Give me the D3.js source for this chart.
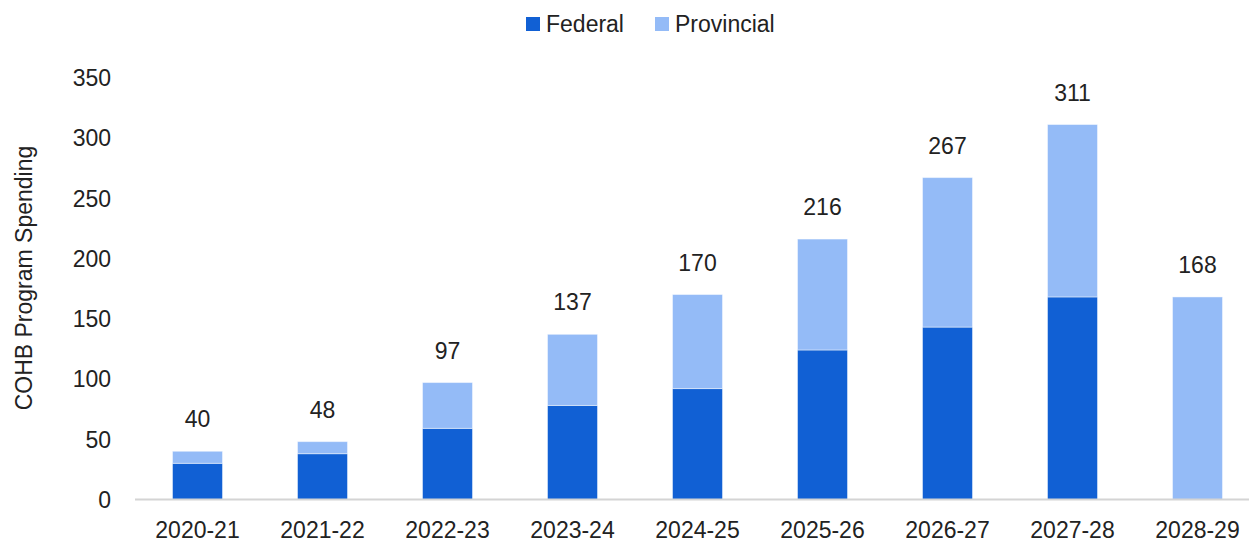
<!DOCTYPE html>
<html>
<head>
<meta charset="utf-8">
<script src="https://cdn.jsdelivr.net/npm/d3@7"></script>
<style>
  body { margin: 0; background: #fff; }
  text { font-family: "Liberation Sans", Arial, sans-serif; fill: #222; }
</style>
</head>
<body>
<svg></svg>
<script>
// data
const years = ["2020-21", "2021-22", "2022-23", "2023-24", "2024-25", "2025-26", "2026-27", "2027-28", "2028-29"];
const federal = [30, 38, 59, 78, 92, 124, 143, 168, 0];
const provincial = [10, 10, 38, 59, 78, 92, 124, 143, 168];
const totals = [40, 48, 97, 137, 170, 216, 267, 311, 168];
const seriesNames = ["Federal", "Provincial"];
const yTicks = [0, 50, 100, 150, 200, 250, 300, 350];

const width = 1249,
  height = 541;
const colors = { Federal: "#1160D4", Provincial: "#94BBF7" };

const svg = d3.select("svg").attr("width", width).attr("height", height);

const rows = years.map((y, i) => ({ year: y, Federal: federal[i], Provincial: provincial[i], total: totals[i] }));

const x = d3.scaleBand().domain(years).range([135, 1260]).paddingInner(0.6).paddingOuter(0.3);
const y = d3.scaleLinear().domain([0, 350]).range([499.5, 77.5]);

const stack = d3.stack().keys(seriesNames)(rows);

////////////////////////////// bars //////////////////////////////
svg
  .append("g")
  .selectAll("g")
  .data(stack)
  .enter()
  .append("g")
  .attr("fill", d => colors[d.key])
  .selectAll("rect")
  .data(d => d.filter(p => p[1] - p[0] > 0))
  .enter()
  .append("rect")
  .attr("x", d => x(d.data.year))
  .attr("width", x.bandwidth())
  .attr("y", d => y(d[1]))
  .attr("height", d => y(d[0]) - y(d[1]))
  .attr("stroke", "#fff")
  .attr("stroke-opacity", 0.45)
  .attr("stroke-width", 1);

////////////////////////////// axes //////////////////////////////
svg
  .append("line")
  .attr("x1", 135)
  .attr("x2", width)
  .attr("y1", y(0))
  .attr("y2", y(0))
  .attr("stroke", "#d4d4d4")
  .attr("stroke-width", 2);

const yAxis = svg
  .append("g")
  .attr("transform", "translate(111,0)")
  .call(d3.axisLeft(y).tickValues(yTicks).tickSize(0).tickPadding(0));
yAxis.select(".domain").remove();
yAxis.selectAll("text").attr("font-size", 23).attr("dy", "0.35em").attr("font-family", null);

const xAxis = svg
  .append("g")
  .attr("transform", "translate(0," + y(0) + ")")
  .call(d3.axisBottom(x).tickSize(0).tickPadding(0));
xAxis.select(".domain").remove();
xAxis.selectAll("text").attr("font-size", 23).attr("y", 38).attr("dy", null).attr("font-family", null);

svg
  .append("text")
  .attr("transform", "translate(32,278) rotate(-90)")
  .attr("text-anchor", "middle")
  .attr("font-size", 23)
  .text("COHB Program Spending");

////////////////////////////// total labels //////////////////////////////
svg
  .append("g")
  .selectAll("text")
  .data(rows)
  .enter()
  .append("text")
  .attr("x", d => x(d.year) + x.bandwidth() / 2)
  .attr("y", d => y(d.total) - 24)
  .attr("text-anchor", "middle")
  .attr("font-size", 23)
  .text(d => d.total);

////////////////////////////// legend //////////////////////////////
const legendX = [526, 655];
const legend = svg
  .append("g")
  .selectAll("g")
  .data(seriesNames)
  .enter()
  .append("g")
  .attr("transform", (d, i) => "translate(" + legendX[i] + ",17)");
legend.append("rect").attr("width", 14).attr("height", 14).attr("fill", d => colors[d]);
legend
  .append("text")
  .attr("x", 20)
  .attr("y", 15)
  .attr("font-size", 23)
  .text(d => d);
</script>
</body>
</html>
